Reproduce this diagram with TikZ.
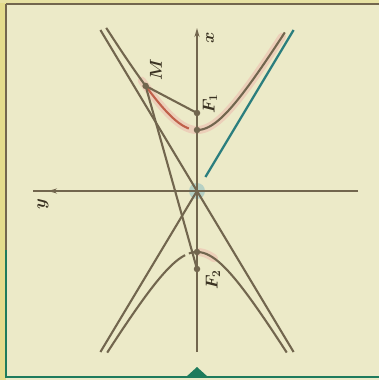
\documentclass[tikz,border=0pt]{standalone}
\usetikzlibrary{arrows.meta}
\definecolor{bgc}{HTML}{ECEAC8}
\definecolor{yel}{HTML}{E4DC8C}
\definecolor{brn}{HTML}{72664E}
\definecolor{txt}{HTML}{3A3222}
\definecolor{tealc}{HTML}{2B7E7E}
\definecolor{redc}{HTML}{C0604A}
\definecolor{pinkg}{HTML}{EDC6B4}
\definecolor{grn}{HTML}{1E7B5C}
\definecolor{glow}{HTML}{A9CBC4}
\tikzset{
  ln/.style={draw=brn, line width=2.1pt},
  axis/.style={draw=brn, line width=1.5pt},
  hyp/.style={draw=brn, line width=2.1pt},
  dot/.style={circle, fill=brn, inner sep=0pt, minimum size=6.5pt},
  lbl/.style={text=txt, rotate=90, font=\fontsize{17}{17}\selectfont\boldmath, inner sep=0pt},
  tip/.style={-{Stealth[length=9pt,width=5pt]}}
}
\begin{document}
\begin{tikzpicture}[x=1pt,y=-1pt]
\useasboundingbox (0,0) rectangle (379,380);
\fill[bgc] (0,0) rectangle (379,380);
\fill[yel] (0,0) rectangle (6,380);
\fill[yel!60!bgc] (0,0) rectangle (379,3);
% frame
\draw[brn, line width=2.6pt] (6,4) -- (379,4);
\draw[brn, line width=2.6pt] (6,4) -- (6,250);
\draw[grn, line width=2.6pt] (6,250) -- (6,377) -- (379,377);
\fill[grn] (186,377) -- (197,367) -- (208,377) -- cycle;
% key points
\coordinate (O) at (197,191);
\coordinate (F1) at (197,113);
\coordinate (F2) at (197,269);
\coordinate (V1) at (197,130);
\coordinate (V2) at (197,252);
\coordinate (M) at (145.6,85.9);
\coordinate (XT) at (197,28);
\coordinate (XB) at (197,352);
\coordinate (YR) at (358,191);
\coordinate (YL) at (33,191);
\coordinate (YA) at (64,191);
\coordinate (YH) at (48,191);
\coordinate (A1s) at (100.4,30);
\coordinate (A1e) at (293.6,352);
\coordinate (A2s) at (205.4,177);
\coordinate (A2e) at (293.6,30);
\coordinate (A2b) at (100.4,352);
% glows
\fill[glow, opacity=0.8] (O) circle (8pt);
\draw[pinkg, line width=8pt, line cap=round, opacity=0.75]
  plot[domain=-1.2:1.58, samples=80, variable=\t]
  ({197+36.6*0.5*(exp(\t)-exp(-\t))}, {191-61*0.5*(exp(\t)+exp(-\t))});
\draw[pinkg, line width=8pt, line cap=round, opacity=0.7]
  plot[domain=0.05:0.45, samples=20, variable=\t]
  ({197+36.6*0.5*(exp(\t)-exp(-\t))}, {191+61*0.5*(exp(\t)+exp(-\t))});
% axes
\draw[axis] (YR) -- (YL);
\draw[axis, tip] (YA) -- (YH);
\draw[axis, tip] (XB) -- (XT);
% asymptotes
\draw[ln] (A1s) -- (A1e);
\draw[ln] (O) -- (A2b);
\draw[draw=tealc, line width=2.3pt] (A2s) -- (A2e);
% upper branch
\draw[hyp] plot[domain=-1.64:-1.14, samples=30, variable=\t]
  ({197+36.6*0.5*(exp(\t)-exp(-\t))}, {191-61*0.5*(exp(\t)+exp(-\t))});
\draw[draw=redc, line width=2.1pt] plot[domain=-1.14:-0.22, samples=40, variable=\t]
  ({197+36.6*0.5*(exp(\t)-exp(-\t))}, {191-61*0.5*(exp(\t)+exp(-\t))});
\draw[hyp] plot[domain=0.05:1.61, samples=60, variable=\t]
  ({197+36.6*0.5*(exp(\t)-exp(-\t))}, {191-61*0.5*(exp(\t)+exp(-\t))});
% lower branch
\draw[hyp] plot[domain=-1.63:-0.32, samples=50, variable=\t]
  ({197+36.6*0.5*(exp(\t)-exp(-\t))}, {191+61*0.5*(exp(\t)+exp(-\t))});
\draw[hyp] plot[domain=-0.22:1.63, samples=60, variable=\t]
  ({197+36.6*0.5*(exp(\t)-exp(-\t))}, {191+61*0.5*(exp(\t)+exp(-\t))});
% focal radii
\draw[ln] (M) -- (F1);
\draw[ln] (M) -- (F2);
% dots
\node[dot] (dM) at (M) {};
\node[dot] (dF1) at (F1) {};
\node[dot] (dF2) at (F2) {};
\node[dot] (dV1) at (V1) {};
\node[dot] (dV2) at (V2) {};
% labels
\node[lbl] (lx) at (210,38) {$x$};
\node[lbl] (ly) at (43,204) {$y$};
\node[lbl, font=\fontsize{19}{19}\selectfont\boldmath] (lM) at (156,70) {$M$};
\node[lbl] (lF1) at (210,104) {$F_1$};
\node[lbl] (lF2) at (213,280) {$F_2$};
\end{tikzpicture}
\end{document}
